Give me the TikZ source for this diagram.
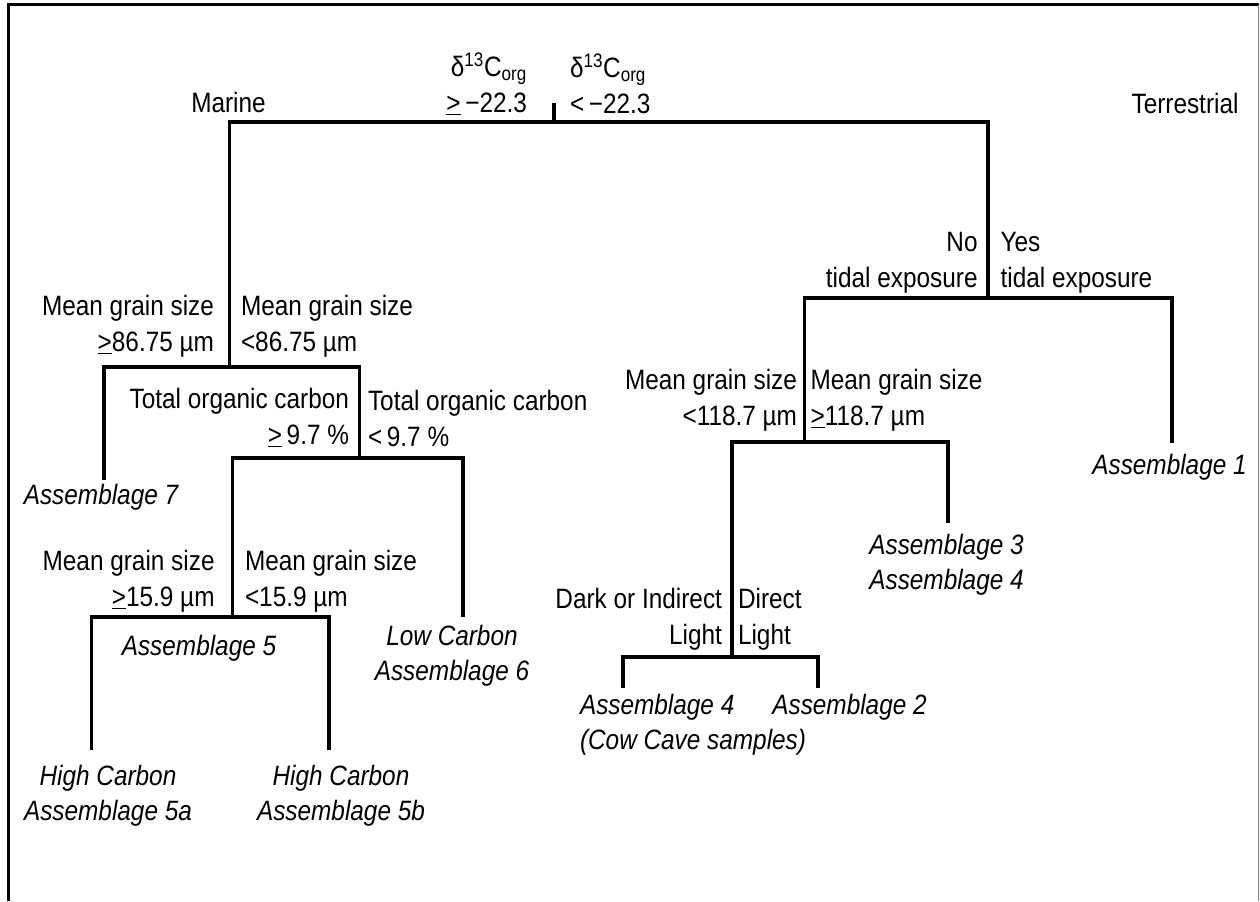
\documentclass[tikz,border=0pt]{standalone}
\usepackage{fontspec}
\setmainfont[FakeStretch=0.87]{Liberation Sans}
\begin{document}
\begin{tikzpicture}[x=0.75pt,y=-0.75pt,
  br/.style={line width=2.5pt, line join=miter},
  lab/.style={font=\fontsize{21}{27}\selectfont, inner sep=0pt, outer sep=0pt},
  labl/.style={lab, align=right, anchor=east},
  labr/.style={lab, align=left, anchor=west},
  leaf/.style={inner sep=0pt, outer sep=0pt, font=\fontsize{21}{26.5}\selectfont\itshape, align=center}]
\useasboundingbox (0,0) rectangle (1260,901);
% frame
\draw[line width=2.25pt] (8.5,901) -- (8.5,4.5) -- (1259,4.5);
\draw[gray, line width=1.1pt] (1258.6,4.5) -- (1258.6,901);
% junctions
\coordinate (rootTop) at (554,103);
\coordinate (Jroot) at (554,122);
\coordinate (Jmar) at (229.5,367);
\coordinate (Jtoc) at (359.5,458);
\coordinate (Jg15) at (232.5,617);
\coordinate (Jter) at (988,298);
\coordinate (Jg118) at (804.5,442);
\coordinate (Jlight) at (732,657);
% leaf ends
\coordinate (eA7) at (104,480);
\coordinate (eLow) at (463,617);
\coordinate (e5a) at (91.5,750);
\coordinate (e5b) at (329,750);
\coordinate (eA1) at (1172,443);
\coordinate (eA34) at (948,523);
\coordinate (eA4) at (623,688);
\coordinate (eA2) at (818,688);
% branches
\draw[br] (rootTop) -- (Jroot);
\draw[br] (Jmar) |- (Jroot) -| (Jter);
\draw[br] (eA7) |- (Jmar) -| (Jtoc);
\draw[br] (Jg15) |- (Jtoc) -| (eLow);
\draw[br] (e5a) |- (Jg15) -| (e5b);
\draw[br] (Jg118) |- (Jter) -| (eA1);
\draw[br] (Jlight) |- (Jg118) -| (eA34);
\draw[br] (eA4) |- (Jlight) -| (eA2);
% split labels
\node[labl] (dL) at (527,84) {δ\textsuperscript{13}C\textsubscript{org}\\\underline{>}\,−22.3};
\node[labr] (dR) at (570,84) {δ\textsuperscript{13}C\textsubscript{org}\\<\,−22.3};
\node[lab] (marine) at (228.5,102) {Marine};
\node[lab] (terr) at (1185,103) {Terrestrial};
\node[labl] (mgL) at (214,326.5) {Mean grain size\\\underline{>}86.75 µm};
\node[labr] (mgR) at (241,326.5) {Mean grain size\\<86.75 µm};
\node[labl] (tocL) at (349,418) {Total organic carbon\\\underline{>}\,9.7 \%};
\node[labr] (tocR) at (368,418) {Total organic carbon\\<\,9.7 \%};
\node[labl] (g15L) at (214.6,581.5) {Mean grain size\\\underline{>}15.9 µm};
\node[labr] (g15R) at (245,581.5) {Mean grain size\\<15.9 µm};
\node[labl] (tidL) at (977.6,262.5) {No\\tidal exposure};
\node[labr] (tidR) at (1000.6,262.5) {Yes\\tidal exposure};
\node[labl] (g118L) at (797,400) {Mean grain size\\<118.7 µm};
\node[labr] (g118R) at (810.6,400) {Mean grain size\\\underline{>}118.7 µm};
\node[labl] (litL) at (722,619.5) {Dark or Indirect\\Light};
\node[labr] (litR) at (738,619.5) {Direct\\Light};
% leaves
\node[leaf] (A7) at (101,497) {Assemblage 7};
\node[leaf] (A5) at (199,648) {Assemblage 5};
\node[leaf] (A6) at (452,655.5) {Low Carbon\\Assemblage 6};
\node[leaf] (A5a) at (108,795.5) {High Carbon\\Assemblage 5a};
\node[leaf] (A5b) at (341,795.5) {High Carbon\\Assemblage 5b};
\node[leaf] (A1) at (1169.5,467) {Assemblage 1};
\node[leaf] (A34) at (946.5,564.5) {Assemblage 3\\Assemblage 4};
\node[leaf, align=left, anchor=west] (A4) at (580,724.5) {Assemblage 4\\(Cow Cave samples)};
\node[leaf] (A2) at (849.5,707) {Assemblage 2};
\end{tikzpicture}
\end{document}
